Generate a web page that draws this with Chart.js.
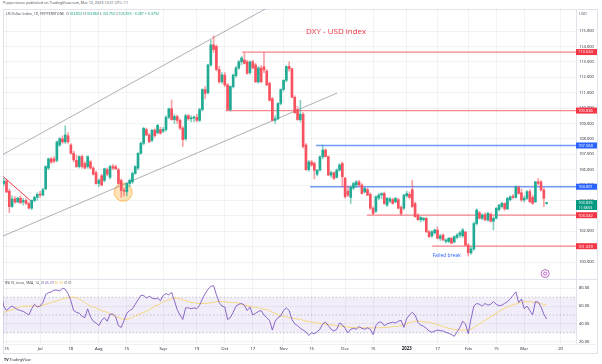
<!DOCTYPE html>
<html><head><meta charset="utf-8">
<script src="https://cdn.jsdelivr.net/npm/chart.js@4.4.0/dist/chart.umd.min.js"></script>
<style>
html,body{margin:0;padding:0;background:#fff;width:602px;height:364px;overflow:hidden;font-family:"Open Sans","Noto Sans",sans-serif;}
.abs{position:absolute;}
#frame{left:3px;top:9px;width:595px;height:345px;border:1px solid #e0e3eb;box-sizing:border-box;}
.tiny{position:absolute;white-space:nowrap;transform:scale(0.5);transform-origin:0 0;color:#434651;line-height:1;}
.g{color:#089981}
#sep1{left:3px;top:279px;width:595px;height:1px;background:#e0e3eb;}
#sep2{left:3px;top:344px;width:595px;height:1px;background:#eef0f4;}
</style></head>
<body>
<div id="frame" class="abs"></div>
<canvas id="main" class="abs" style="left:3px;top:9px" width="595" height="270"></canvas>
<canvas id="rsi" class="abs" style="left:3px;top:279px" width="595" height="75"></canvas>
<div id="sep1" class="abs"></div>
<div id="sep2" class="abs"></div>
<div class="tiny" style="left:3px;top:1px;font-size:7.4px;">Pepperstone published on TradingView.com, Mar 13, 2023 12:21 UTC+11</div>
<div class="tiny" style="left:6px;top:11.5px;font-size:7.2px;">US Dollar Index, 1D, PEPPERSTONE&nbsp; O<span class="g">103.802</span> H<span class="g">103.860</span> L<span class="g">103.750</span> C<span class="g">103.835</span> <span class="g">−0.387 (−0.37%)</span></div>
<div class="tiny" style="left:5px;top:281px;font-size:7px;">RSI (9, close, SMA, 14, 2) <span style="color:#7e57c2">45.29</span> <span style="color:#e8b92e">61.31</span> ∅ ∅</div>
<div class="tiny" style="left:4px;top:357.5px;font-size:7.4px;color:#131722;"><b>TV</b> TradingView</div>
<script>
// ---------- DATA ----------
const tickIdx    = [2, 14, 25, 35, 45, 58, 70, 80, 90, 101, 111, 123, 133, 145, 156, 167, 177, 187, 200];
const tickLabels = ['15','Jul','18','Aug','15','Sep','19','Oct','17','Nov','15','Dec','15','2023','17','Feb','15','Mar','20'];
const priceTicks = [100,101,102,103,104,105,106,107,108,109,110,111,112,113,114,115];
const rsiTicks = [20,40,60,80];

const open = [104.7,105.1,105.25,104.6,103.6,104.1,103.9,104.15,103.9,104.0,
103.8,103.5,104.0,104.2,104.4,104.35,104.75,106.1,106.7,106.7,
106.6,107.6,108.0,107.8,108.2,107.6,107.06,106.6,106.2,106.85,
106.4,106.2,106.5,106.1,105.8,105.1,105.6,105.3,106.0,105.5,
106.2,106.2,106.0,105.3,104.65,104.56,105.1,105.2,105.75,106.1,
107.06,107.71,108.6,108.25,107.9,108.57,108.4,108.6,108.5,108.6,
109.4,109.95,109.25,109.45,109.2,108.7,108.0,109.5,109.3,109.35,
109.4,109.2,109.9,111.2,111.0,112.8,114.1,114.0,112.5,111.7,
112.14,111.5,109.9,111.38,112.1,112.6,113.0,113.12,113.0,112.3,
113.0,112.8,111.7,112.6,112.68,112.4,111.6,110.6,109.2,109.3,
110.3,111.2,111.8,112.7,112.55,110.7,109.9,109.25,109.6,107.6,
106.0,106.5,106.4,105.7,105.97,106.84,107.27,106.84,105.65,105.8,
105.5,105.97,106.4,105.45,104.6,104.2,104.8,105.0,105.2,105.0,
104.55,104.7,104.4,103.5,103.3,104.15,104.35,104.45,103.7,103.95,
104.05,103.9,104.05,103.55,103.5,104.3,104.4,104.7,103.8,103.05,
102.75,102.75,102.84,101.97,101.7,101.9,102.08,101.54,101.75,101.35,
101.33,101.55,101.3,101.6,101.75,101.7,101.95,101.1,100.6,100.85,
102.5,103.2,102.84,103.05,102.73,103.1,102.65,102.84,103.4,103.6,
103.8,103.45,104.05,104.24,104.2,104.85,104.5,104.03,104.14,104.57,
104.2,103.92,105.21,105.2,104.68,103.802];
const high = [105.4,105.45,105.4,104.75,104.3,104.25,104.2,104.3,104.15,104.1,
103.9,104.05,104.3,104.5,104.6,104.8,106.25,106.75,106.8,106.85,
107.85,108.1,108.2,108.85,108.4,107.7,107.2,106.95,106.9,106.95,
106.5,106.9,106.6,106.2,105.9,105.4,105.7,106.1,106.1,106.3,
106.35,106.3,106.1,105.4,104.8,105.15,105.4,105.85,106.25,107.1,
107.8,108.75,108.7,108.35,108.6,108.65,108.95,108.75,108.75,109.5,
110.0,110.52,109.6,109.55,109.3,108.8,109.6,109.6,109.5,109.5,
109.6,110.0,111.25,111.4,112.85,114.4,114.7,114.1,112.7,112.3,
112.3,111.6,111.45,112.2,112.7,113.1,113.35,113.6,113.1,113.05,
113.1,112.9,112.7,112.75,113.62,112.5,111.7,110.7,109.5,110.35,
111.25,111.85,112.75,113.0,112.6,110.8,110.1,110.5,109.7,107.7,
106.6,106.6,106.5,106.0,106.9,107.6,107.35,106.9,105.9,105.85,
106.05,106.4,106.5,105.5,104.95,104.95,105.2,105.3,105.3,105.1,
104.85,104.8,104.5,103.6,104.3,104.45,104.5,104.55,104.2,104.2,
104.15,104.2,104.15,103.65,104.4,104.6,104.55,105.32,103.9,103.15,
102.95,102.9,102.9,102.05,102.05,102.15,102.3,101.8,101.85,101.5,
101.6,101.6,101.7,101.85,102.0,102.2,102.0,101.2,101.0,102.6,
103.45,103.3,103.15,103.2,103.25,103.2,102.95,103.55,103.75,103.9,
103.85,104.2,104.3,104.4,104.95,104.95,104.75,104.3,104.65,104.7,
104.35,105.25,105.43,105.3,104.8,103.86];
const low = [104.6,104.95,104.5,103.2,103.55,103.8,103.85,103.8,103.7,103.75,
103.45,103.4,103.9,104.0,104.2,104.3,104.7,106.0,106.4,106.45,
106.5,107.5,107.7,107.7,107.7,107.0,106.5,106.15,106.1,106.1,
106.05,106.1,106.05,105.65,105.05,104.9,104.95,105.2,105.6,105.4,
106.0,106.0,105.05,104.2,104.3,104.3,104.9,105.1,105.7,106.0,
107.0,107.6,108.2,107.75,107.8,108.1,108.3,108.3,108.4,108.5,
109.3,109.2,109.0,109.0,108.6,107.5,107.9,109.2,109.1,109.1,
109.1,109.1,109.8,110.6,110.9,112.7,113.6,112.4,111.6,111.6,
111.4,109.85,109.8,111.3,112.0,112.5,112.8,112.85,112.2,112.2,
112.55,111.65,111.6,111.65,112.3,111.45,110.45,109.15,109.0,109.25,
110.2,111.1,111.7,112.4,110.65,109.65,109.2,109.1,107.4,105.95,
105.9,106.2,105.4,105.6,105.9,106.7,106.8,105.6,105.5,105.35,
105.45,105.9,104.89,104.15,104.25,103.8,104.7,104.85,104.9,104.4,
104.5,104.3,103.4,103.1,103.2,104.05,104.1,103.75,103.6,103.85,
103.75,103.85,103.45,103.05,103.4,104.2,104.1,103.55,102.9,102.7,
102.6,102.65,101.9,101.6,101.6,101.8,101.5,101.4,101.4,101.25,
101.25,101.2,101.25,101.5,101.6,101.6,101.05,100.39,100.5,100.75,
102.4,102.8,102.75,102.7,102.65,102.6,102.08,102.8,103.3,103.5,
103.35,103.4,103.95,104.1,104.15,104.4,103.95,103.9,104.05,103.85,
103.75,103.85,105.0,104.6,103.59,103.75];
const close = [105.2,105.25,104.55,103.6,104.1,103.9,104.15,103.85,104.0,103.8,
103.5,104.0,104.2,104.4,104.35,104.7,106.2,106.7,106.5,106.55,
107.8,108.0,107.8,108.25,107.8,107.06,106.63,106.2,106.85,106.2,
106.1,106.85,106.1,105.7,105.1,105.3,105.0,106.06,105.7,106.2,
106.1,106.06,105.1,104.65,104.6,105.1,105.3,105.75,106.2,107.06,
107.71,108.68,108.25,107.81,108.57,108.2,108.88,108.36,108.62,109.4,
109.95,109.25,109.45,109.2,108.7,107.95,109.5,109.3,109.35,109.4,
109.2,109.9,111.2,110.95,112.8,114.1,113.8,112.5,111.7,112.15,
111.49,109.9,111.4,112.14,112.6,113.0,113.25,112.9,112.25,113.0,
112.6,111.7,112.6,111.7,112.47,111.5,110.5,109.2,109.3,110.3,
111.2,111.8,112.7,112.55,110.7,109.7,109.25,109.6,107.5,106.0,
106.5,106.3,105.95,105.97,106.84,107.27,106.85,105.65,105.8,105.43,
105.97,106.3,105.54,104.24,104.35,104.85,105.1,105.2,105.0,104.45,
104.78,104.35,103.5,103.15,104.24,104.35,104.45,103.8,104.14,104.1,
103.8,104.14,103.5,103.15,104.35,104.45,104.2,103.6,102.95,102.75,
102.9,102.84,101.97,101.65,101.97,102.08,101.54,101.7,101.43,101.43,
101.54,101.22,101.65,101.76,101.9,102.08,101.1,100.6,100.85,102.5,
103.38,102.84,103.05,102.73,103.16,102.65,102.84,103.49,103.7,103.81,
103.45,104.14,104.24,104.2,104.89,104.46,104.03,104.15,104.57,103.92,
103.81,105.21,105.11,104.68,104.14,103.835];

const rsi = [76,60,55,58,60,58,56,55,54,52,
50,57,62,59,60,64,73,75,76,78,
78,77,80,79,74,66,55,53,52,48.5,
47,57,48,43,41,38,44,47,43,51,
51,48,38,36,44,52,55,57,62,67,
72,72,69,71,69,68,69,66,72,74,
72.6,75.5,66,56,50,45,58,58,57,58,
57,61,68,74,79,82,83,73,64,60,
59,45,47,53,60,62,63,61,55,59,
50,52,54,55,50,47,44,33,43,47,
49,55,58,55,45,40,38,35,33,31,
27,30,29,31,34,40,42,38,34,32,
34,41,39,35,30,34,35,34,37,35,
34,35.6,34,28,38,42,42,38,40,41,
42,41,43,44,36,46,50,53,50,42,
38.5,37.4,35,32,30.5,32,33,32.5,32,30.5,
29.5,28,26,31,36,43,40,29,46,60,
63,62,60,63,61,62,65,62,60.5,61,
63,65,68,72,76,64,68,57,60,55,
50,65,64.5,59,51,45.29];
const rsiMa = [52,53,54,55,56,57,58,59,
60,60,60,60,60,60,60,
61,62,63,64,65,66,67,68,69,69.5,
70,70,69.5,
68,66,64,62,60,
59,58,56,55,54,53,51,50,
49,47,46,45,45,
46,47,49,50,52,53,54,
56,58,60,61,
63,65,66,67,68,69,
69,68,67,66,
65,64,64,63,63,
63,63,63,64,64,65,65,
65,65,64.5,64,64,64,
63,62,61,60.5,60,
59,58.5,58,57,56.5,56,
55,53,52,50,49,48.5,
48,47,46.5,46,45.5,45,
44,43,42.5,42,41.5,41,
40.5,40,39.5,39,39,38.5,
38,37.5,37,37,36.5,36,
36,35.8,35.6,35.6,35.6,35.6,35.6,35.6,35.6,35.6,35.8,36,36,
36.5,37,37,37.5,38,
39,40,41.5,42.5,
43,43,43,42.5,42,
42,41,40,39,38,37,
36,35,34.5,34,33.5,33,
33,33,33.5,34,
36,38,40,42,
44,46,48,50,52,
54,56,57.5,59,60.5,61.5,
62.5,63.5,64,65,65,
65,64.5,64,63.5,62.5,62,61.31];

// horizontal levels drawn on the chart (value, start bar, kind)
const levelValues = [113.634, 109.836, 107.568, 104.891, 103.042, 101.029];
const levelStart  = [86.2, 80.3, 112.6, 110.5, 130.8, 154.1];
const levelKind   = ['red','red','blue','blue','red','red'];
const lastPrice = 103.835;
const countdown = '11:38:59';
// drawn trend lines, in (bar, price)
const upperChannel = [[-0.32,106.88],[106.9,117.69]];
const lowerChannel = [[0.75,101.69],[120.1,110.97]];
const shortTrend   = [[0.86,105.54],[11.0,103.92]];
const circleAt     = [43.7,104.53];
const titleText = 'DXY - USD index';
const titleAt   = [119.8,114.93];
const noteText  = 'Failed break';
const noteAt    = [159.3,100.45];
const eventAt   = [194.5,99.25];
const rsiBands  = [70,50,30];

// ---------- CHART ----------
Chart.defaults.font.family = '"Open Sans","Noto Sans",sans-serif';
Chart.defaults.animation = false;
const xMin = 0.75, xMax = 205.5;
const UP = '#22ab94', DN = '#f7525f';
const UPW = 'rgba(34,171,148,0.55)', DNW = 'rgba(247,82,95,0.55)';
const GRID = 'rgba(42,46,57,0.06)';
const AXW = 22;
const labelMap = {}; tickIdx.forEach((v,k)=>labelMap[v]=tickLabels[k]);

const bodies = open.map((o,i)=>({x:i, y:[Math.min(o,close[i]), Math.max(o,close[i])]}));
const wicks = open.map((o,i)=>({x:i, y:[low[i], high[i]]}));
const colBody = open.map((o,i)=> close[i]>=o ? UP : DN);
const colWick = open.map((o,i)=> close[i]>=o ? UPW : DNW);

const pts = a => a.map(p=>({x:p[0], y:p[1]}));
const levelSets = levelValues.map((v,k)=>({
  type:'line', data:[{x:levelStart[k],y:v},{x:xMax,y:v}],
  borderColor: levelKind[k]==='red' ? 'rgba(242,54,69,0.6)' : 'rgba(41,98,255,0.65)',
  borderWidth:1.3, pointRadius:0, order:2
}));

function fixAxisY(s){ s.width = AXW; s.paddingTop = 0; s.paddingBottom = 0; }

const mainOverlay = {
  id:'mainOverlay',
  afterDatasetsDraw(chart){
    const {ctx, chartArea:a, scales:{x,y}} = chart;
    ctx.save();
    ctx.beginPath(); ctx.rect(a.left,a.top,a.width,a.height); ctx.clip();
    ctx.textAlign='center'; ctx.textBaseline='middle';
    ctx.fillStyle='#f23645'; ctx.font='500 8px "Open Sans"';
    ctx.fillText(titleText, x.getPixelForValue(titleAt[0]), y.getPixelForValue(titleAt[1]));
    ctx.fillStyle='#2962ff'; ctx.font='5px "Open Sans"';
    ctx.fillText(noteText, x.getPixelForValue(noteAt[0]), y.getPixelForValue(noteAt[1]));
    const ex = x.getPixelForValue(eventAt[0]), ey = y.getPixelForValue(eventAt[1]);
    ctx.beginPath(); ctx.arc(ex,ey,4,0,Math.PI*2); ctx.fillStyle='#fff'; ctx.fill();
    ctx.strokeStyle='#ba68c8'; ctx.lineWidth=1; ctx.stroke();
    ctx.beginPath(); ctx.arc(ex,ey,1.6,0,Math.PI*2); ctx.strokeStyle='#ab47bc'; ctx.lineWidth=0.8; ctx.stroke();
    ctx.restore();
  },
  afterDraw(chart){
    const {ctx, chartArea:a, scales:{y}} = chart;
    ctx.save();
    ctx.font='4px "Open Sans"'; ctx.textBaseline='middle'; ctx.textAlign='left';
    ctx.fillStyle='#50535e'; ctx.fillText('USD', a.right+3, 4.5);
    levelValues.forEach((v,k)=>{
      const py = y.getPixelForValue(v);
      ctx.fillStyle = levelKind[k]==='red' ? '#f23645' : '#2962ff';
      ctx.fillRect(a.right, py-3, 21, 6);
      ctx.fillStyle='#fff'; ctx.fillText(v.toFixed(3), a.right+2, py+0.2);
    });
    const py = y.getPixelForValue(lastPrice);
    ctx.fillStyle='#089981'; ctx.fillRect(a.right, py-3, 21, 10);
    ctx.fillStyle='#fff';
    ctx.fillText(lastPrice.toFixed(3), a.right+2, py+0.2);
    ctx.font='3.5px "Open Sans"'; ctx.fillText(countdown, a.right+2.5, py+4.6);
    ctx.restore();
  }
};

new Chart(document.getElementById('main'), {
  type:'bar',
  data:{ datasets:[
    {type:'bar', data:bodies, backgroundColor:colBody, barThickness:2, grouped:false, minBarLength:1, order:0},
    {type:'bar', data:wicks, backgroundColor:colWick, barThickness:1, grouped:false, order:1},
    ...levelSets,
    {type:'line', data:pts(upperChannel), borderColor:'rgba(120,123,134,0.75)', borderWidth:0.8, pointRadius:0, order:3},
    {type:'line', data:pts(lowerChannel), borderColor:'rgba(120,123,134,0.75)', borderWidth:0.8, pointRadius:0, order:3},
    {type:'line', data:pts(shortTrend), borderColor:'#f23645', borderWidth:1, pointRadius:0, order:3},
    {type:'line', data:[{x:circleAt[0],y:circleAt[1]}], showLine:false, pointRadius:9,
      pointBackgroundColor:'rgba(255,152,0,0.28)', pointBorderColor:'rgba(255,152,0,0.55)', pointBorderWidth:1, order:4}
  ]},
  options:{
    responsive:false, devicePixelRatio:1, events:[],
    layout:{padding:0, autoPadding:false},
    plugins:{legend:{display:false}, tooltip:{enabled:false}},
    scales:{
      x:{type:'linear', min:xMin, max:xMax, offset:false,
         grid:{color:GRID, drawTicks:false, offset:false}, border:{display:false},
         ticks:{display:false},
         afterBuildTicks:s=>{s.ticks = tickIdx.map(v=>({value:v}));},
         afterFit:s=>{s.height=0; s.paddingLeft=0; s.paddingRight=0;}},
      y:{type:'linear', position:'right', min:98.9, max:116.43,
         grid:{color:GRID, drawTicks:false}, border:{display:true, color:'#e0e3eb'},
         ticks:{padding:3, color:'#131722', font:{size:4}, callback:v=>v.toFixed(3)},
         afterBuildTicks:s=>{s.ticks = priceTicks.map(v=>({value:v}));},
         afterFit:fixAxisY}
    }
  },
  plugins:[mainOverlay]
});

const flat = v => [{x:xMin,y:v},{x:xMax,y:v}];
new Chart(document.getElementById('rsi'), {
  type:'line',
  data:{ datasets:[
    {data:rsi.map((v,i)=>({x:i,y:v})), borderColor:'#7e57c2', borderWidth:0.9, pointRadius:0, order:0},
    {data:rsiMa.map((v,i)=>({x:i,y:v})), borderColor:'rgba(247,205,70,0.75)', borderWidth:0.9, pointRadius:0, order:1},
    ...rsiBands.map(b=>({data:flat(b), borderColor:'rgba(120,123,134,0.5)', borderWidth:0.8, borderDash:[1.5,2], pointRadius:0, order:2})),
    {data:flat(rsiBands[0]), borderWidth:0, pointRadius:0, fill:false, order:3},
    {data:flat(rsiBands[2]), borderWidth:0, pointRadius:0, fill:'-1', backgroundColor:'rgba(126,87,194,0.1)', order:3}
  ]},
  options:{
    responsive:false, devicePixelRatio:1, events:[],
    layout:{padding:0, autoPadding:false},
    plugins:{legend:{display:false}, tooltip:{enabled:false}, filler:{propagate:false}},
    scales:{
      x:{type:'linear', min:xMin, max:xMax, offset:false,
         grid:{color:GRID, drawTicks:false}, border:{display:false},
         ticks:{padding:2.5, color:'#131722', maxRotation:0, autoSkip:false,
           font:c=>({size:4.3, weight: (c.tick && c.tick.value===145) ? 'bold' : 'normal'}),
           callback:v=>labelMap[v]},
         afterBuildTicks:s=>{s.ticks = tickIdx.map(v=>({value:v}));},
         afterFit:s=>{s.height=10; s.paddingLeft=0; s.paddingRight=0;}},
      y:{type:'linear', position:'right', min:17.4, max:90.45,
         grid:{color:GRID, drawTicks:false}, border:{display:true, color:'#e0e3eb'},
         ticks:{padding:3, color:'#131722', font:{size:4}, callback:v=>v.toFixed(2)},
         afterBuildTicks:s=>{s.ticks = rsiTicks.map(v=>({value:v}));},
         afterFit:fixAxisY}
    }
  }
});
</script>
</body></html>
